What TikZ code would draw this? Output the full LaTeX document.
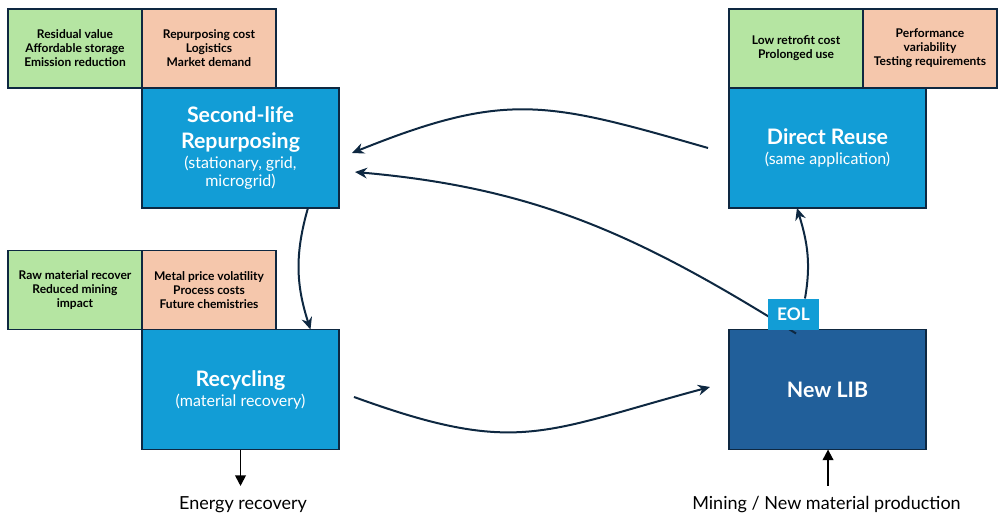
\documentclass[tikz,border=0pt]{standalone}
\usepackage{fontspec}
\setmainfont{Lato}
\usepackage{tikz}
\usetikzlibrary{arrows.meta,positioning}
\definecolor{stageblue}{RGB}{18,157,214}
\definecolor{libblue}{RGB}{33,95,154}
\definecolor{progreen}{RGB}{181,229,162}
\definecolor{conorange}{RGB}{245,199,172}
\definecolor{edge}{RGB}{14,40,65}
\newcommand{\stagetitle}[1]{{\fontsize{16}{20}\selectfont\bfseries #1}}
\tikzset{
  stage/.style={
    draw=edge, line width=1.1pt, fill=stageblue, text=white,
    align=center, inner sep=0pt, outer sep=0pt,
    minimum width=147.75pt, minimum height=90pt,
    font=\fontsize{12}{13.5}\selectfont
  },
  libbox/.style={
    stage,
    fill=libblue
  },
  note/.style={
    draw=edge, line width=1.1pt, align=center,
    inner sep=0pt, outer sep=0pt,
    minimum width=100.5pt, minimum height=59.25pt,
    font=\fontsize{9}{10.5}\selectfont\bfseries
  },
  pro/.style={note, fill=progreen},
  con/.style={note, fill=conorange},
  eolbox/.style={
    fill=stageblue, text=white, inner sep=0pt, outer sep=0pt,
    minimum width=38.25pt, minimum height=23.25pt,
    font=\fontsize{13}{14}\selectfont\bfseries
  },
  outtext/.style={font=\fontsize{13.5}{15}\selectfont, inner sep=0pt},
  flow/.style={draw=edge, line width=1.5pt, -{Stealth[length=9pt,width=8pt]}},
  feed/.style={draw=black, line width=1.4pt, -{Triangle[length=8pt,width=8pt]}}
}

\begin{document}
\begin{tikzpicture}[x=0.75pt, y=0.75pt]
   \useasboundingbox (0,0) rectangle (998,-513);

   \node[stage] (sl) at (240.5,-148)
      {\stagetitle{Second-life}\\[6pt]\stagetitle{Repurposing}\\[1.5pt](stationary, grid,\\microgrid)};
   \node[con, above right=0pt and 0pt of sl.north west] (slcon) {Repurposing cost\\Logistics\\Market demand};
   \node[pro, left=0pt of slcon] (slpro) {Residual value\\Affordable storage\\Emission reduction};

   \node[stage] (dr) at (827.5,-148)
      {\stagetitle{Direct Reuse}\\[1.5pt](same application)};
   \node[pro, above right=0pt and 0pt of dr.north west] (drpro) {Low retrofit cost\\Prolonged use};
   \node[con, right=0pt of drpro] (drcon) {Performance\\variability\\Testing requirements};

   \node[stage] (rec) at (240.5,-389.5)
      {\stagetitle{Recycling}\\[1.5pt](material recovery)};
   \node[con, above right=0pt and 0pt of rec.north west] (reccon) {Metal price volatility\\Process costs\\Future chemistries};
   \node[pro, left=0pt of reccon] (recpro) {Raw material recover\\Reduced mining\\impact};

   \node[libbox] (lib) at (827.5,-389.5) {\stagetitle{New LIB}};

   \node[outtext] (er) at (243,-505) {Energy recovery};
   \node[outtext] (mine) at (826.5,-505) {Mining / New material production};

   \draw[flow] ([xshift=-15.75pt]dr.west) to [out=164, in=22, looseness=1.2] ([xshift=9.75pt,yshift=-3.75pt]sl.east);
   \draw[flow] ([xshift=50.6pt]sl.south) to [out=-106, in=108] ([xshift=52.5pt]rec.north);
   \draw[flow] ([xshift=11.25pt,yshift=-5.6pt]rec.east) to [out=-20, in=195, looseness=1.25] ([xshift=-14.25pt,yshift=1.9pt]lib.west);
   \draw[flow] ([xshift=-23.6pt,yshift=-3pt]lib.north) to [out=148, in=-5] ([xshift=12pt,yshift=-18pt]sl.east);

   \node[eolbox, above right=0pt and 29.25pt of lib.north west] (eol) {EOL};
   \draw[flow] ([xshift=8.6pt]eol.north) to [out=80, in=-73] ([xshift=-22.9pt]dr.south);

   \draw[feed, shorten >=8pt] (rec.south) -- (rec.south |- er.north);
   \draw[feed, shorten <=8pt] ([xshift=0.4pt]lib.south |- mine.north) -- ([xshift=0.4pt]lib.south);
\end{tikzpicture}
\end{document}
